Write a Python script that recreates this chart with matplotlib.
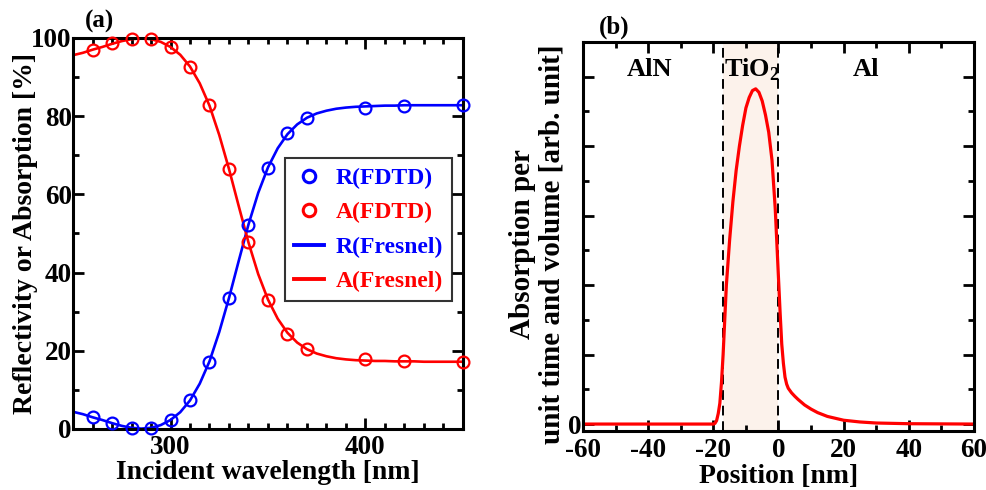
import matplotlib
matplotlib.use("Agg")
import matplotlib.pyplot as plt
from matplotlib.lines import Line2D
from matplotlib.ticker import MultipleLocator, FixedLocator

plt.rcParams["font.family"] = ["Liberation Serif", "DejaVu Serif"]
plt.rcParams["font.weight"] = "bold"
plt.rcParams["axes.unicode_minus"] = False
plt.rcParams["mathtext.fontset"] = "custom"
plt.rcParams["mathtext.rm"] = "Liberation Serif:bold"
plt.rcParams["mathtext.bf"] = "Liberation Serif:bold"

# (a) FDTD points
wl_fdtd = [260, 270, 280, 290, 300, 310, 320, 330, 340, 350, 360, 370, 400, 420, 450]
r_fdtd = [3.0, 1.6, 0.3, 0.3, 2.3, 7.3, 17.2, 33.4, 52.2, 66.8, 75.6, 79.5, 82.2, 82.7, 82.8]
a_fdtd = [96.9, 98.6, 99.7, 99.8, 97.7, 92.7, 82.9, 66.5, 47.9, 33.1, 24.4, 20.5, 17.9, 17.4, 17.2]

# (a) Fresnel curves, read every 5 nm
wl_fresnel = [250, 255, 260, 265, 270, 275, 280, 285, 290, 295, 300, 305, 310, 315, 320,
              325, 330, 335, 340, 345, 350, 355, 360, 365, 370, 375, 380, 385, 390, 395,
              400, 405, 410, 415, 420, 425, 430, 435, 440, 445, 450]
r_fresnel = [4.4, 3.8, 3.0, 2.3, 1.5, 0.8, 0.3, 0.1, 0.3, 1.0, 2.3, 4.3, 7.3, 11.6, 17.3,
             24.8, 33.5, 43.0, 52.3, 60.4, 66.9, 71.8, 75.4, 77.9, 79.6, 80.7, 81.4, 81.9, 82.2, 82.4,
             82.5, 82.6, 82.7, 82.7, 82.8, 82.8, 82.8, 82.8, 82.8, 82.8, 82.8]
a_fresnel = [95.6, 96.2, 97.0, 97.7, 98.5, 99.2, 99.7, 99.9, 99.7, 99.0, 97.7, 95.7, 92.7, 88.4, 82.7,
             75.2, 66.5, 57.0, 47.7, 39.6, 33.1, 28.2, 24.6, 22.1, 20.4, 19.3, 18.6, 18.1, 17.8, 17.6,
             17.5, 17.4, 17.4, 17.3, 17.3, 17.3, 17.2, 17.2, 17.2, 17.2, 17.2]

# (b) absorption profile
pos = [-60, -20, -19.5, -19, -18.5, -18, -17.5, -17, -16.5, -16, -15, -14, -13, -12, -11,
       -10, -9, -8, -7, -6, -5, -4, -3, -2, -1, -0.5, 0, 0.5, 1, 1.5, 2, 2.5, 3, 4, 5, 6,
       8, 10, 12, 15, 20, 25, 30, 40, 60]
absorb = [0, 0, 0.02, 0.1, 0.3, 0.6, 1.2, 2.0, 3.0, 4.0, 5.3, 6.4, 7.3, 8.0, 8.6,
          9.1, 9.4, 9.6, 9.65, 9.55, 9.3, 8.9, 8.4, 7.6, 6.2, 5.2, 4.2, 3.2, 2.3, 1.75, 1.35, 1.15, 1.03, 0.9, 0.8, 0.71,
          0.55, 0.43, 0.33, 0.22, 0.11, 0.06, 0.03, 0.01, 0]
tio2_left, tio2_right = -17, 0

BLUE = "#0000ff"
RED = "#ff0000"
TICK_FS = 19.5
LABEL_FS = 20


def style_axes(ax):
    for s in ax.spines.values():
        s.set_linewidth(2.2)
    ax.tick_params(which="both", direction="in", top=True, right=True, width=2.0,
                   labelsize=TICK_FS)
    ax.tick_params(axis="y", pad=1)
    ax.tick_params(axis="x", pad=4)
    ax.tick_params(which="major", length=8)
    ax.tick_params(which="minor", length=4)


fig = plt.figure(figsize=(9.87, 4.90), dpi=100)
ax1 = fig.add_axes([0.074, 0.1245, 0.395, 0.798])
ax2 = fig.add_axes([0.5907, 0.1204, 0.3961, 0.794])

# panel (a)
ax1.plot(wl_fresnel, r_fresnel, color=BLUE, lw=1.9, zorder=2)
ax1.plot(wl_fresnel, a_fresnel, color=RED, lw=1.9, zorder=2)
ax1.plot(wl_fdtd, r_fdtd, "o", mfc="none", mec=BLUE, ms=8.5, mew=1.6, zorder=3, clip_on=False)
ax1.plot(wl_fdtd, a_fdtd, "o", mfc="none", mec=RED, ms=8.5, mew=1.6, zorder=3, clip_on=False)
ax1.set_xlim(250, 450)
ax1.set_ylim(0, 100)
ax1.xaxis.set_major_locator(FixedLocator([300, 400]))
ax1.xaxis.set_minor_locator(MultipleLocator(10))
ax1.yaxis.set_major_locator(MultipleLocator(20))
ax1.yaxis.set_minor_locator(MultipleLocator(10))
style_axes(ax1)
ax1.set_xlabel("Incident wavelength [nm]", fontsize=LABEL_FS, fontweight="bold", labelpad=0)
ax1.set_ylabel("Reflectivity or Absorption [%]", fontsize=LABEL_FS, fontweight="bold", labelpad=-5)

handles = [
    Line2D([], [], ls="none", marker="o", mfc="none", mec=BLUE, ms=9, mew=2.2),
    Line2D([], [], ls="none", marker="o", mfc="none", mec=RED, ms=9, mew=2.2),
    Line2D([], [], color=BLUE, lw=2.8),
    Line2D([], [], color=RED, lw=2.8),
]
labels = ["R(FDTD)", "A(FDTD)", "R(Fresnel)", "A(Fresnel)"]
leg = ax1.legend(handles, labels, loc="upper right", bbox_to_anchor=(0.973, 0.692),
                 fontsize=17, frameon=True, fancybox=False, edgecolor="black",
                 handlelength=1.3, handletextpad=0.5, borderpad=0.38, labelspacing=0.55,
                 borderaxespad=0)
leg.get_frame().set_linewidth(1.5)
for txt, c in zip(leg.get_texts(), [BLUE, RED, BLUE, RED]):
    txt.set_color(c)
    txt.set_fontweight("bold")

fig.text(0.101, 0.957, "(a)", fontsize=18, fontweight="bold", ha="center", va="center")

# panel (b)
ax2.axvspan(tio2_left, tio2_right, color="#fcf2eb", zorder=0, lw=0)
ax2.axvline(tio2_left, color="black", ls=(0, (5, 3)), lw=1.4, zorder=1)
ax2.axvline(tio2_right, color="black", ls=(0, (5, 3)), lw=1.4, zorder=1)
ax2.plot(pos, absorb, color=RED, lw=2.3, zorder=2)
ax2.set_xlim(-60, 60)
ax2.set_ylim(-0.2, 11)
ax2.xaxis.set_major_locator(MultipleLocator(20))
ax2.xaxis.set_minor_locator(MultipleLocator(10))
ax2.yaxis.set_minor_locator(MultipleLocator(1))
style_axes(ax2)
ax2.tick_params(axis="x", pad=5)
ax2.set_yticks([0, 2, 4, 6, 8, 10])
ax2.set_yticklabels(["0", "", "", "", "", ""])
ax2.set_xlabel("Position [nm]", fontsize=LABEL_FS, fontweight="bold", labelpad=0.5)
ax2.set_ylabel("Absorption per\nunit time and volume [arb. unit]", fontsize=21,
               fontweight="bold", linespacing=1.1)
ax2.yaxis.set_label_coords(-0.046, 0.48)
ax2.text(-39.5, 10.2, "AlN", fontsize=19, fontweight="bold", ha="center", va="center")
ax2.text(-8.0, 10.2, r"TiO$_2$", fontsize=19, fontweight="bold", ha="center", va="center")
ax2.text(27, 10.2, "Al", fontsize=19, fontweight="bold", ha="center", va="center")

fig.text(0.622, 0.945, "(b)", fontsize=18, fontweight="bold", ha="center", va="center")

fig.savefig("out.png", dpi=100)
